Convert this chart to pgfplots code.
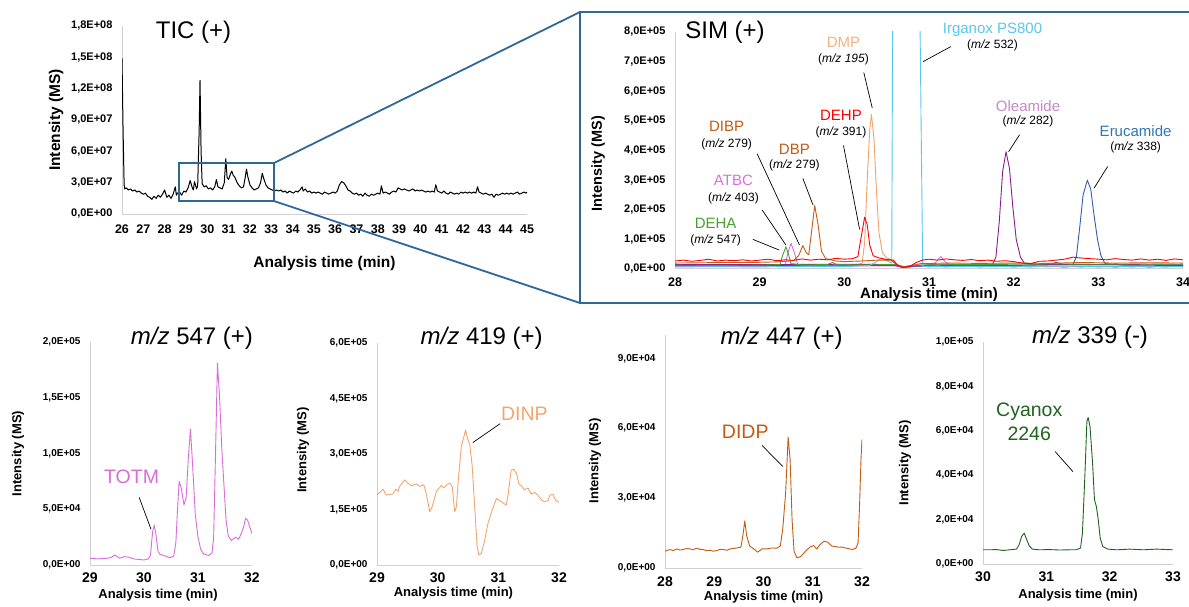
\documentclass[border=0pt]{standalone}
\usepackage{pgfplots}
\pgfplotsset{compat=1.18}
\usepackage{fontspec}
\setmainfont{Liberation Sans}
\newcommand{\fs}[1]{\fontsize{#1}{#1}\selectfont}
\definecolor{zoomblue}{RGB}{47,103,150}
\definecolor{cDEHA}{RGB}{72,158,48}
\definecolor{cATBC}{RGB}{218,112,214}
\definecolor{cDBP}{RGB}{197,90,17}
\definecolor{cDEHP}{RGB}{255,0,0}
\definecolor{cDMPt}{RGB}{244,177,131}
\definecolor{cDMPl}{RGB}{243,160,105}
\definecolor{cIrg}{RGB}{91,197,242}
\definecolor{cOlet}{RGB}{199,135,200}
\definecolor{cOlel}{RGB}{139,28,139}
\definecolor{cErut}{RGB}{46,117,182}
\definecolor{cErul}{RGB}{46,95,168}
\definecolor{cTOTM}{RGB}{216,108,216}
\definecolor{cDINP}{RGB}{244,164,108}
\definecolor{cDIDP}{RGB}{197,90,17}
\definecolor{cCyan}{RGB}{30,100,30}
\pgfplotsset{chromo/.style={
  scale only axis, enlargelimits=false, anchor=south west,
  axis x line*=bottom, axis y line*=left,
  axis line style={-, draw=black!18, line width=1pt},
  major tick length=0pt,
  clip mode=individual,
  scaled ticks=false,
  /pgf/number format/assume math mode=true,
  every axis y label/.style={rotate=90, anchor=center},
  every axis x label/.style={anchor=center},
  every axis plot/.append style={line width=0.9pt, line join=round},
}}
\begin{document}
\begin{tikzpicture}
\useasboundingbox (0pt,0pt) rectangle (1189pt,606pt);

% ---------------- TIC ----------------
\begin{axis}[chromo, at={(122pt,392pt)}, width=405pt, height=188pt,
  xmin=26, xmax=45, ymin=0, ymax=18,
  xtick={26,...,45}, ytick={0,3,...,18},
  yticklabels={{0,0E+00},{3,0E+07},{6,0E+07},{9,0E+07},{1,2E+08},{1,5E+08},{1,8E+08}},
  xticklabel style={font=\bfseries\fs{12.5}, yshift=-7pt},
  yticklabel style={font=\bfseries\fs{11}, xshift=-6pt},
  xlabel={Analysis time (min)}, ylabel={Intensity (MS)},
  xlabel style={font=\bfseries\fs{15.5}, at={(axis description cs:0.5,0)}, yshift=-49pt},
  ylabel style={font=\bfseries\fs{15.5}, at={(axis description cs:0,0.5)}, yshift=66pt}]
\addplot[black, line width=1pt] coordinates {
(26.00,14.9)(26.05,8)(26.1,2.8)(26.13,2.4)(26.2,2.5)(26.3,2.3)(26.4,2.4)(26.5,2.2)(26.6,2.3)(26.7,2.1)(26.8,2.2)(26.9,2.0)
(27.0,1.9)(27.1,2.0)(27.2,1.7)(27.3,1.6)(27.4,1.4)(27.5,1.7)(27.6,1.5)(27.7,1.8)(27.8,1.6)(27.9,1.9)
(28.0,2.3)(28.1,1.6)(28.2,1.8)(28.3,1.5)(28.4,1.9)(28.5,2.6)(28.55,1.8)(28.6,2.0)(28.7,2.1)(28.8,1.8)(28.9,2.2)
(29.0,2.1)(29.1,2.5)(29.2,3.2)(29.3,2.5)(29.35,2.3)(29.4,3.1)(29.5,2.4)(29.55,2.7)(29.62,8.0)(29.66,12.8)(29.71,6.0)(29.76,2.9)(29.85,2.6)(29.95,2.7)
(30.05,2.4)(30.15,2.5)(30.25,2.3)(30.35,2.6)(30.43,3.3)(30.5,2.6)(30.6,2.5)(30.7,2.4)(30.8,3.0)(30.87,5.3)(30.93,3.5)
(31.0,3.3)(31.08,3.8)(31.15,4.1)(31.22,3.7)(31.3,3.5)(31.4,3.0)(31.5,2.7)(31.6,2.5)(31.7,2.6)(31.78,3.5)(31.84,4.3)(31.9,3.6)
(32.0,2.8)(32.1,2.5)(32.2,2.3)(32.3,2.4)(32.4,2.5)(32.5,3.0)(32.58,3.9)(32.65,3.4)(32.75,2.8)(32.85,2.5)(32.95,2.4)
(33.05,2.3)(33.15,2.2)(33.25,2.3)(33.35,2.2)(33.45,2.3)(33.55,2.1)(33.65,2.2)(33.75,2.0)(33.85,2.2)(33.95,2.1)
(34.05,2.0)(34.15,2.2)(34.25,2.1)(34.35,2.3)(34.45,2.6)(34.5,2.2)(34.6,2.4)(34.7,2.1)(34.8,2.2)(34.9,2.0)
(35.0,2.1)(35.1,2.0)(35.2,2.1)(35.3,2.0)(35.4,1.9)(35.5,2.1)(35.6,2.0)(35.7,1.9)(35.8,2.0)(35.9,2.1)
(36.0,2.0)(36.1,2.2)(36.2,2.8)(36.3,3.1)(36.4,3.0)(36.5,2.7)(36.6,2.3)(36.7,2.2)(36.8,2.0)(36.9,1.9)
(37.0,2.0)(37.1,1.8)(37.2,1.9)(37.3,1.7)(37.4,2.0)(37.5,1.8)(37.6,1.7)(37.7,1.9)(37.8,1.8)(37.9,1.9)
(38.0,2.0)(38.1,1.9)(38.17,2.7)(38.25,2.0)(38.35,2.1)(38.45,2.0)(38.55,1.9)(38.65,2.1)(38.75,2.2)(38.85,2.1)(38.95,2.5)
(39.05,2.4)(39.15,2.3)(39.25,2.4)(39.35,2.3)(39.45,2.2)(39.55,2.3)(39.65,2.4)(39.75,2.2)(39.85,2.3)(39.95,2.2)
(40.05,2.3)(40.15,2.2)(40.25,2.1)(40.35,2.2)(40.45,2.1)(40.55,2.2)(40.65,2.1)(40.72,2.8)(40.8,2.2)(40.9,2.1)
(41.0,2.0)(41.1,2.2)(41.2,2.0)(41.3,1.9)(41.4,2.1)(41.5,2.0)(41.6,1.9)(41.7,2.0)(41.8,1.9)(41.9,2.1)
(42.0,2.0)(42.1,2.1)(42.2,2.0)(42.3,2.1)(42.4,2.0)(42.5,2.1)(42.6,2.0)(42.68,2.6)(42.75,2.1)(42.85,2.0)(42.95,1.9)
(43.05,2.0)(43.15,1.9)(43.25,1.8)(43.35,1.9)(43.45,1.6)(43.55,1.9)(43.65,1.8)(43.75,1.9)(43.85,2.0)(43.95,1.9)
(44.05,2.0)(44.15,1.9)(44.25,2.0)(44.35,1.9)(44.45,2.0)(44.55,2.1)(44.65,1.9)(44.75,2.0)(44.85,2.1)(44.95,2.0)(45.0,2.1)};
\draw[zoomblue, line width=1.8pt] (axis cs:28.67,1.24) rectangle (axis cs:33.13,4.88);
\coordinate (rTR) at (axis cs:33.13,4.88);
\coordinate (rBR) at (axis cs:33.13,1.24);
\end{axis}

% ---------------- SIM ----------------
\begin{axis}[chromo, at={(675pt,337pt)}, width=508pt, height=237pt,
  xmin=28, xmax=34, ymin=0, ymax=8,
  xtick={28,...,34}, ytick={0,1,...,8},
  yticklabels={{0,0E+00},{1,0E+05},{2,0E+05},{3,0E+05},{4,0E+05},{5,0E+05},{6,0E+05},{7,0E+05},{8,0E+05}},
  xticklabel style={font=\bfseries\fs{12.5}, yshift=-5.5pt},
  yticklabel style={font=\bfseries\fs{11}, xshift=-6pt},
  xlabel={Analysis time (min)}, ylabel={Intensity (MS)},
  xlabel style={font=\bfseries\fs{15}, at={(axis description cs:0.5,0)}, yshift=-26pt},
  ylabel style={font=\bfseries\fs{14.5}, at={(axis description cs:0,0.445)}, yshift=77pt}]
\addplot[cDMPl] coordinates {(28.0,0.1)(28.2,0.08)(28.4,0.11)(28.6,0.09)(28.8,0.1)(29.0,0.08)(29.2,0.12)(29.4,0.1)(29.6,0.11)(29.8,0.13)(30.0,0.12)(30.15,0.14)(30.21,0.2)(30.24,0.9)(30.27,3.0)(30.3,4.7)(30.32,5.22)(30.35,4.4)(30.38,2.6)(30.41,1.2)(30.45,0.55)(30.5,0.38)(30.56,0.3)(30.62,0.12)(30.7,0.04)(30.8,0.08)(30.9,0.1)(31.0,0.07)(31.1,0.1)(31.2,0.06)(31.3,0.09)(31.4,0.07)(31.5,0.1)(31.6,0.06)(31.7,0.09)(31.8,0.07)(31.9,0.1)(32.0,0.06)(32.1,0.09)(32.2,0.06)(32.3,0.1)(32.4,0.07)(32.5,0.09)(32.6,0.05)(32.7,0.09)(32.8,0.06)(32.9,0.1)(33.0,0.06)(33.1,0.09)(33.2,0.05)(33.3,0.09)(33.4,0.06)(33.5,0.1)(33.6,0.05)(33.7,0.08)(33.8,0.06)(33.9,0.09)(34.0,0.07)};
\addplot[cATBC] coordinates {(28.0,0.09)(29.0,0.09)(29.3,0.12)(29.33,0.5)(29.37,0.87)(29.41,0.55)(29.45,0.15)(29.6,0.1)(30.0,0.1)(30.6,0.1)(30.7,0.04)(30.8,0.08)(31.05,0.12)(31.1,0.3)(31.14,0.42)(31.19,0.25)(31.25,0.12)(32.0,0.1)(33.0,0.1)(34.0,0.1)};
\addplot[cErul] coordinates {(28.0,0.12)(29.0,0.12)(30.0,0.13)(30.6,0.12)(30.7,0.05)(30.8,0.09)(31.0,0.11)(32.0,0.12)(32.4,0.14)(32.5,0.22)(32.6,0.15)(32.7,0.16)(32.74,0.4)(32.78,1.4)(32.82,2.5)(32.87,3.0)(32.91,2.7)(32.95,1.8)(32.99,1.0)(33.03,0.45)(33.08,0.18)(33.3,0.13)(34.0,0.12)};
\addplot[cOlel] coordinates {(28.0,0.15)(29.0,0.15)(30.0,0.16)(30.6,0.15)(30.7,0.06)(30.8,0.1)(31.0,0.14)(31.5,0.15)(31.75,0.16)(31.79,0.4)(31.83,1.6)(31.87,3.3)(31.91,3.96)(31.95,3.4)(31.99,2.1)(32.03,1.0)(32.08,0.4)(32.13,0.18)(32.3,0.15)(33.0,0.15)(34.0,0.14)};
\addplot[cDEHA] coordinates {(28.0,0.13)(28.5,0.12)(29.0,0.13)(29.24,0.15)(29.27,0.45)(29.31,0.75)(29.34,0.5)(29.37,0.18)(29.5,0.14)(29.8,0.15)(29.86,0.22)(29.92,0.14)(30.2,0.14)(30.6,0.15)(30.7,0.06)(30.8,0.12)(31.0,0.14)(31.5,0.15)(32.0,0.16)(32.5,0.17)(33.0,0.16)(33.5,0.17)(34.0,0.16)};
\addplot[cIrg] coordinates {(28.0,0.07)(28.5,0.08)(29.0,0.07)(29.5,0.09)(30.0,0.08)(30.3,0.12)(30.38,0.25)(30.44,0.36)(30.5,0.28)(30.56,0.2)(30.575,12)(30.88,12)(30.925,0.1)(31.0,0.08)(31.5,0.09)(32.0,0.08)(32.5,0.1)(33.0,0.08)(33.5,0.09)(34.0,0.08)};
\addplot[cDBP] coordinates {(28.0,0.2)(28.3,0.21)(28.6,0.22)(28.9,0.22)(29.2,0.24)(29.4,0.28)(29.46,0.45)(29.51,0.79)(29.55,0.55)(29.58,0.48)(29.61,1.2)(29.65,2.14)(29.69,1.5)(29.73,0.6)(29.78,0.35)(29.9,0.27)(30.0,0.25)(30.2,0.27)(30.4,0.3)(30.55,0.3)(30.62,0.15)(30.7,0.08)(30.8,0.12)(30.9,0.18)(31.2,0.2)(31.6,0.19)(32.0,0.2)(32.4,0.19)(32.8,0.22)(33.2,0.2)(33.6,0.21)(34.0,0.2)};
\addplot[cDEHP] coordinates {(28.0,0.27)(28.1,0.3)(28.2,0.26)(28.3,0.29)(28.4,0.33)(28.5,0.27)(28.6,0.3)(28.7,0.28)(28.8,0.31)(28.9,0.27)(29.0,0.3)(29.1,0.33)(29.2,0.28)(29.3,0.31)(29.4,0.29)(29.5,0.34)(29.6,0.3)(29.7,0.33)(29.8,0.31)(29.9,0.36)(30.0,0.33)(30.1,0.35)(30.16,0.42)(30.2,1.1)(30.24,1.75)(30.27,1.5)(30.3,0.8)(30.34,0.45)(30.4,0.38)(30.5,0.32)(30.58,0.3)(30.63,0.12)(30.7,0.05)(30.78,0.1)(30.85,0.22)(30.92,0.3)(31.0,0.33)(31.1,0.3)(31.2,0.34)(31.3,0.31)(31.4,0.29)(31.5,0.32)(31.6,0.28)(31.7,0.3)(31.8,0.26)(31.9,0.28)(32.0,0.25)(32.1,0.2)(32.2,0.18)(32.3,0.26)(32.4,0.27)(32.5,0.3)(32.6,0.33)(32.7,0.4)(32.8,0.37)(32.9,0.35)(33.0,0.33)(33.1,0.31)(33.2,0.35)(33.3,0.32)(33.4,0.3)(33.5,0.34)(33.6,0.3)(33.7,0.33)(33.8,0.29)(33.9,0.34)(34.0,0.31)};
% annotations
\node[font=\fs{15}, text=cDEHA] at (axis cs:28.48,1.54) {DEHA};
\node[font=\fs{12}] at (axis cs:28.48,0.96) {(\textit{m/z} 547)};
\draw[black, line width=0.7pt] (axis cs:28.92,1.00) -- (axis cs:29.23,0.64);
\node[font=\fs{15}, text=cATBC] at (axis cs:28.69,2.98) {ATBC};
\node[font=\fs{12}] at (axis cs:28.69,2.40) {(\textit{m/z} 403)};
\draw[black, line width=0.7pt] (axis cs:29.03,1.99) -- (axis cs:29.31,0.81);
\node[font=\fs{15}, text=cDBP] at (axis cs:28.61,4.81) {DIBP};
\node[font=\fs{12}] at (axis cs:28.61,4.22) {(\textit{m/z} 279)};
\draw[black, line width=0.7pt] (axis cs:28.97,3.89) -- (axis cs:29.47,0.81);
\node[font=\fs{15}, text=cDBP] at (axis cs:29.41,4.05) {DBP};
\node[font=\fs{12}] at (axis cs:29.41,3.49) {(\textit{m/z} 279)};
\draw[black, line width=0.7pt] (axis cs:29.51,3.06) -- (axis cs:29.63,2.16);
\node[font=\fs{15}, text=cDEHP] at (axis cs:29.96,5.20) {DEHP};
\node[font=\fs{12}] at (axis cs:29.96,4.62) {(\textit{m/z} 391)};
\draw[black, line width=0.7pt] (axis cs:29.99,4.17) -- (axis cs:30.18,1.34);
\node[font=\fs{15}, text=cDMPt] at (axis cs:29.99,7.65) {DMP};
\node[font=\fs{12}] at (axis cs:29.99,7.06) {(\textit{m/z 195})};
\draw[black, line width=0.7pt] (axis cs:30.23,6.63) -- (axis cs:30.33,5.43);
\node[font=\fs{15}, text=cIrg] at (axis cs:31.75,8.07) {Irganox PS800};
\node[font=\fs{12}] at (axis cs:31.75,7.55) {(\textit{m/z} 532)};
\draw[black, line width=0.7pt] (axis cs:31.26,7.51) -- (axis cs:30.93,7.00);
\node[font=\fs{15}, text=cOlet] at (axis cs:32.17,5.51) {Oleamide};
\node[font=\fs{12}] at (axis cs:32.17,4.97) {(\textit{m/z} 282)};
\draw[black, line width=0.7pt] (axis cs:32.07,4.53) -- (axis cs:31.94,3.96);
\node[font=\fs{15}, text=cErut] at (axis cs:33.44,4.66) {Erucamide};
\node[font=\fs{12}] at (axis cs:33.44,4.10) {(\textit{m/z} 338)};
\draw[black, line width=0.7pt] (axis cs:33.11,3.46) -- (axis cs:32.95,2.73);
\end{axis}

% ---------------- m/z 547 ----------------
\begin{axis}[chromo, at={(90pt,41pt)}, width=162pt, height=223pt,
  xmin=29, xmax=32, ymin=0, ymax=20,
  xtick={29,...,32}, ytick={0,5,...,20},
  yticklabels={{0,0E+00},{5,0E+04},{1,0E+05},{1,5E+05},{2,0E+05}},
  xticklabel style={font=\bfseries\fs{14}, yshift=-4.5pt},
  yticklabel style={font=\bfseries\fs{10}, xshift=-6pt},
  xlabel={Analysis time (min)}, ylabel={Intensity (MS)},
  xlabel style={font=\bfseries\fs{13}, at={(axis description cs:0.42,0)}, yshift=-30pt},
  ylabel style={font=\bfseries\fs{13}, at={(axis description cs:0,0.5)}, yshift=72pt}]
\addplot[cTOTM] coordinates {(29.0,0.6)(29.15,0.55)(29.3,0.6)(29.38,0.65)(29.46,0.9)(29.55,0.6)(29.63,0.75)(29.72,0.7)(29.8,0.55)(29.9,0.5)(30.0,0.45)(30.08,0.55)(30.12,0.9)(30.16,3.0)(30.19,3.58)(30.22,2.8)(30.26,1.2)(30.3,0.95)(30.4,0.8)(30.48,0.65)(30.55,0.8)(30.59,2.0)(30.62,4.9)(30.65,7.5)(30.69,6.9)(30.74,5.4)(30.78,6.0)(30.82,9.5)(30.86,12.2)(30.9,9.0)(30.95,4.5)(31.0,2.5)(31.05,1.4)(31.1,1.0)(31.2,0.85)(31.26,1.1)(31.29,2.5)(31.32,9.0)(31.36,18.1)(31.4,15.0)(31.44,10.5)(31.48,7.2)(31.52,4.0)(31.56,2.6)(31.62,2.2)(31.67,2.4)(31.7,2.5)(31.75,2.3)(31.8,2.8)(31.85,3.5)(31.88,4.2)(31.92,4.0)(31.96,3.4)(32.0,2.8)};
\node[font=\fs{19.5}, text=cTOTM] at (axis cs:29.77,7.9) {TOTM};
\draw[black, line width=0.7pt] (axis cs:29.91,6.07) -- (axis cs:30.13,3.2);
\end{axis}

% ---------------- m/z 419 ----------------
\begin{axis}[chromo, at={(377pt,41pt)}, width=182pt, height=222pt,
  xmin=29, xmax=32, ymin=0, ymax=6,
  xtick={29,...,32}, ytick={0,1.5,3,4.5,6},
  yticklabels={{0,0E+00},{1,5E+05},{3,0E+05},{4,5E+05},{6,0E+05}},
  xticklabel style={font=\bfseries\fs{14}, yshift=-4.5pt},
  yticklabel style={font=\bfseries\fs{10}, xshift=-6pt},
  xlabel={Analysis time (min)}, ylabel={Intensity (MS)},
  xlabel style={font=\bfseries\fs{13}, at={(axis description cs:0.42,0)}, yshift=-28pt},
  ylabel style={font=\bfseries\fs{13}, at={(axis description cs:0,0.518)}, yshift=74pt}]
\addplot[cDINP] coordinates {(29.0,1.89)(29.10,2.05)(29.15,1.89)(29.26,1.92)(29.31,2.05)(29.35,1.99)(29.37,2.12)(29.46,2.30)(29.51,2.21)(29.57,2.14)(29.65,2.19)(29.71,2.12)(29.77,2.17)(29.81,1.94)(29.87,1.44)(29.91,1.58)(29.98,1.99)(30.06,2.15)(30.10,2.08)(30.15,2.17)(30.20,2.21)(30.24,2.12)(30.28,1.44)(30.31,1.58)(30.34,2.30)(30.39,3.20)(30.46,3.65)(30.49,3.43)(30.53,3.25)(30.57,2.66)(30.61,1.58)(30.65,0.50)(30.68,0.27)(30.72,0.32)(30.77,0.63)(30.83,1.13)(30.90,1.49)(30.97,1.80)(31.05,1.71)(31.13,1.62)(31.16,1.89)(31.21,2.55)(31.25,2.59)(31.30,2.48)(31.34,2.19)(31.38,2.14)(31.43,2.03)(31.49,2.08)(31.54,1.92)(31.60,1.96)(31.65,1.89)(31.71,1.76)(31.76,1.71)(31.82,1.74)(31.85,1.89)(31.90,1.91)(31.94,1.76)(32.0,1.69)};
\node[font=\fs{19.5}, text=cDINP] at (axis cs:31.43,4.09) {DINP};
\draw[black, line width=0.7pt] (axis cs:31.03,3.82) -- (axis cs:30.58,3.31);
\end{axis}

% ---------------- m/z 447 ----------------
\begin{axis}[chromo, at={(665pt,38pt)}, width=197pt, height=233pt,
  xmin=28, xmax=32, ymin=0, ymax=10,
  xtick={28,...,32}, ytick={0,3,6,9},
  yticklabels={{0,0E+00},{3,0E+04},{6,0E+04},{9,0E+04}},
  xticklabel style={font=\bfseries\fs{14}, yshift=-5.5pt},
  yticklabel style={font=\bfseries\fs{10}, xshift=-6pt},
  xlabel={Analysis time (min)}, ylabel={Intensity (MS)},
  xlabel style={font=\bfseries\fs{13}, at={(axis description cs:0.5,0)}, yshift=-29pt},
  ylabel style={font=\bfseries\fs{13}, at={(axis description cs:0,0.46)}, yshift=70pt}]
\addplot[cDIDP] coordinates {(28.0,0.72)(28.05,0.76)(28.10,0.79)(28.17,0.75)(28.24,0.82)(28.3,0.77)(28.37,0.79)(28.44,0.84)(28.51,0.82)(28.57,0.78)(28.64,0.85)(28.71,0.8)(28.78,0.79)(28.85,0.74)(28.92,0.76)(28.98,0.72)(29.05,0.75)(29.12,0.8)(29.19,0.79)(29.26,0.76)(29.32,0.82)(29.39,0.84)(29.46,0.86)(29.54,0.89)(29.58,1.37)(29.62,2.02)(29.66,1.37)(29.72,0.94)(29.80,0.82)(29.88,0.68)(29.97,0.82)(30.07,0.82)(30.17,0.86)(30.27,0.85)(30.34,0.94)(30.39,1.66)(30.45,3.24)(30.50,5.62)(30.54,4.68)(30.58,2.09)(30.62,0.72)(30.68,0.43)(30.76,0.50)(30.85,0.72)(30.95,0.91)(31.02,0.96)(31.08,0.82)(31.15,1.01)(31.23,1.15)(31.30,1.11)(31.39,0.94)(31.46,0.92)(31.53,0.89)(31.6,0.9)(31.66,0.86)(31.73,0.83)(31.80,0.79)(31.88,0.86)(31.92,1.08)(31.95,2.66)(31.98,4.68)(32.0,5.52)};
\node[font=\fs{19.5}, text=cDIDP] at (axis cs:29.63,5.83) {DIDP};
\draw[black, line width=0.7pt] (axis cs:29.97,5.26) -- (axis cs:30.39,4.36);
\end{axis}

% ---------------- m/z 339 ----------------
\begin{axis}[chromo, at={(983pt,42pt)}, width=190pt, height=222pt,
  xmin=30, xmax=33, ymin=0, ymax=10,
  xtick={30,...,33}, ytick={0,2,...,10},
  yticklabels={{0,0E+00},{2,0E+04},{4,0E+04},{6,0E+04},{8,0E+04},{1,0E+05}},
  xticklabel style={font=\bfseries\fs{14}, yshift=-4.5pt},
  yticklabel style={font=\bfseries\fs{10}, xshift=-6pt},
  xlabel={Analysis time (min)}, ylabel={Intensity (MS)},
  xlabel style={font=\bfseries\fs{13}, at={(axis description cs:0.5,0)}, yshift=-31.5pt},
  ylabel style={font=\bfseries\fs{13}, at={(axis description cs:0,0.455)}, yshift=78pt}]
\addplot[cCyan] coordinates {(30.0,0.64)(30.11,0.64)(30.21,0.65)(30.32,0.61)(30.42,0.64)(30.53,0.67)(30.57,0.87)(30.61,1.24)(30.65,1.39)(30.68,1.17)(30.73,0.82)(30.78,0.67)(30.89,0.64)(31.05,0.65)(31.21,0.63)(31.37,0.64)(31.47,0.64)(31.54,0.72)(31.57,1.39)(31.61,4.09)(31.64,6.41)(31.66,6.60)(31.69,6.18)(31.73,4.54)(31.76,2.89)(31.79,2.59)(31.82,1.99)(31.85,1.17)(31.89,0.79)(31.97,0.67)(32.11,0.64)(32.32,0.67)(32.53,0.64)(32.74,0.67)(33.0,0.64)};
\node[font=\fontsize{19.5}{24}\selectfont, text=cCyan, align=center] at (axis cs:30.73,6.42) {Cyanox\\2246};
\draw[black, line width=0.7pt] (axis cs:31.14,5.06) -- (axis cs:31.42,4.16);
\end{axis}

% titles
\node[font=\fs{24}] at (193.5pt,574pt) {TIC (+)};
\node[font=\fs{24}] at (725pt,574pt) {SIM (+)};
\node[font=\fs{24}] at (192pt,268pt) {\textit{m/z} 547 (+)};
\node[font=\fs{24}] at (481.7pt,268pt) {\textit{m/z} 419 (+)};
\node[font=\fs{24}] at (781.7pt,268pt) {\textit{m/z} 447 (+)};
\node[font=\fs{24}] at (1090pt,269pt) {\textit{m/z} 339 (-)};

% zoom frame and connecting lines
\draw[zoomblue, line width=1.8pt] (580pt,303pt) rectangle (1193pt,594pt);
\draw[zoomblue, line width=1.8pt] (rTR) -- (580pt,594pt);
\draw[zoomblue, line width=1.8pt] (rBR) -- (580pt,303pt);
\end{tikzpicture}
\end{document}
